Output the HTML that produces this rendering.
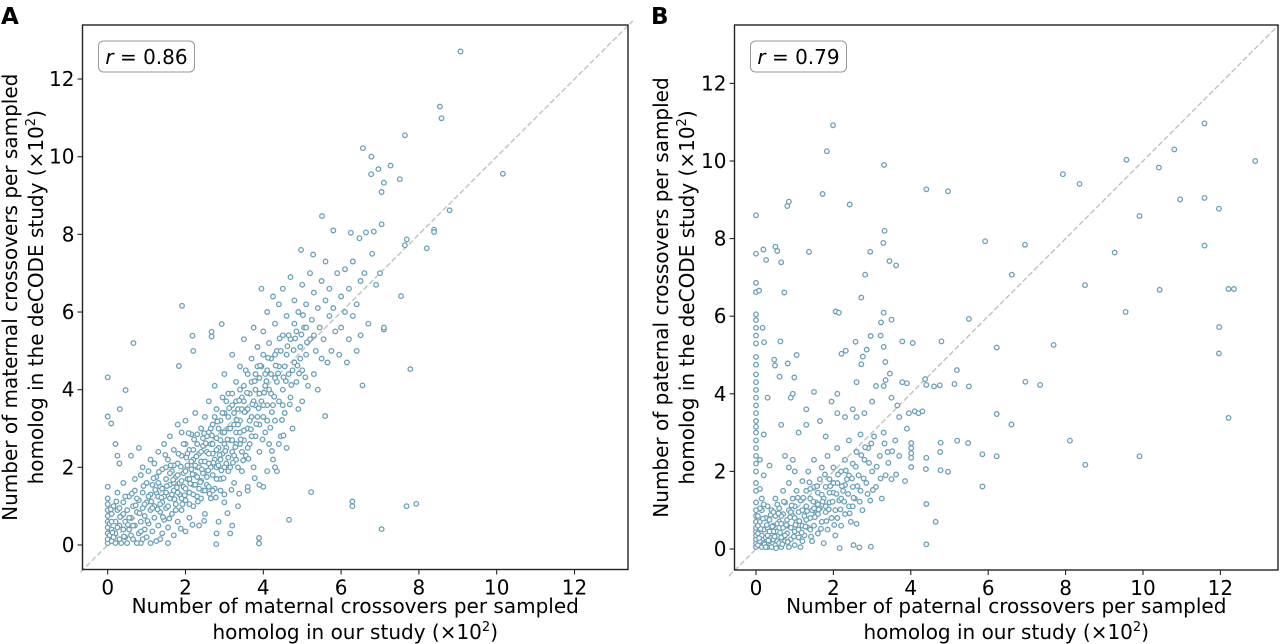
<!DOCTYPE html>
<html><head><meta charset="utf-8"><style>
html,body{margin:0;padding:0;background:#fff;}
svg{display:block;font-family:"DejaVu Sans","Liberation Sans",sans-serif;}
</style></head><body>
<svg id="fig" width="1280" height="644" viewBox="0 0 1280 644">
<text x="1" y="24" font-size="23" font-weight="bold">A</text>
<text x="651" y="24" font-size="23" font-weight="bold">B</text>
<g id="panelA"></g>
<g id="panelB"></g>
</svg>
<script>
const ticks = [0, 2, 4, 6, 8, 10, 12];
const tickLabels = ["0", "2", "4", "6", "8", "10", "12"];
const rA = "0.86";
const rB = "0.79";
const maternalPoints = [
[9.07,12.71],[8.54,11.29],[8.58,10.99],[7.64,10.55],[6.56,10.22],[6.78,10.0],[6.96,9.68],[6.77,9.55],[7.27,9.77],[7.51,9.42],[7.1,9.33],[7.04,9.09],[10.16,9.56],[8.79,8.62],[5.51,8.47],[7.04,8.26],[8.39,8.12],[8.39,8.06],[7.69,7.87],[7.64,7.72],[8.2,7.64],[6.84,8.07],[6.64,8.05],[6.47,7.9],[6.25,8.04],[4.97,7.6],[5.28,7.48],[7.54,6.41],[7.1,5.55],[7.78,4.53],[6.55,4.11],[5.59,3.32],[5.23,1.36],[6.29,1.12],[6.29,1.0],[7.68,1.0],[7.93,1.06],[7.04,0.41],[4.66,0.65],[3.89,0.18],[3.89,0.04],[2.79,0.02],[1.91,6.16],[0.66,5.2],[0,4.32],[0.46,3.99],[0.31,3.5],[0,3.31],[0.09,3.13],[2.18,5.39],[2.2,5.0],[2.93,5.69],[2.67,5.49],[2.67,5.37],[1.83,4.61],
[0,0.05],[0,0.15],[0,0.3],[0,0.45],[0,0.6],[0,0.75],[0,0.9],[0,1.05],[0,1.2],[0,1.5],[0.05,0.25],[0.05,0.55],[0.1,0.1],[0.1,0.4],[0.1,0.8],[0.15,1.0],[0.2,0.05],[0.2,0.3],[0.2,0.6],[0.25,0.9],[0.25,1.35],[0.3,0.15],[0.3,0.5],[0.3,2.1],[0.2,2.6],[0.25,2.3],[0.35,0.05],[0.35,0.75],[0.4,0.4],[0.4,1.1],[0.4,1.6],[0.45,0.2],[0.45,0.6],[0.5,0.9],[0.5,0.05],[0.55,1.25],[0.55,0.4],[0.6,0.7],[0.6,2.3],[0.65,0.15],[0.65,1.0],[0.7,0.5],[0.7,1.4],[0.7,1.7],[0.75,0.85],[0.8,0.3],[0.8,1.15],[0.8,2.5],[0.85,0.05],[0.85,0.6],[0.85,1.8],[0.9,0.95],[0.9,1.35],[0.9,2.0],[0.95,0.4],[0.95,0.75],[1.0,1.1],[1.0,1.6],[1.0,0.2],[1.05,0.55],[1.05,1.9],[1.1,0.9],[1.1,1.3],[1.1,2.2],[1.15,0.35],[1.15,1.55],[1.2,0.7],[1.2,1.0],[1.2,2.1],[1.25,1.75],[1.25,0.1],[1.3,1.25],[1.3,0.5],[1.3,2.4],[1.35,0.85],[1.35,1.5],[1.4,1.95],[1.4,1.1],[1.4,0.3],[1.45,0.65],[1.45,2.6],[1.5,1.35],[1.5,1.7],[1.5,0.95],[1.55,2.2],[1.55,0.45],[1.6,1.2],[1.6,1.55],[1.6,2.8],[1.65,0.8],[1.65,1.9],[1.7,1.4],[1.7,0.25],[1.7,2.45],[1.75,1.05],[1.75,1.75],[1.8,3.1],[1.8,2.1],[1.8,0.6],[1.85,1.3],[1.85,1.6],[1.9,2.3],[1.9,0.9],[1.9,2.9],[1.95,1.5],[1.95,1.85],[2.0,1.15],[2.0,2.6],[2.0,3.2],[2.0,0.35],[2.05,1.7],[2.05,2.05],[2.1,1.35],[2.1,2.45],[2.1,0.7],[2.15,1.95],[2.15,2.85],[2.2,1.55],[2.2,2.2],[2.2,1.0],[2.25,3.4],[2.25,1.8],[2.3,2.6],[2.3,1.25],[2.3,2.0],[2.35,0.5],[2.35,2.35],[2.4,1.65],[2.4,3.0],[2.4,2.15],[2.45,1.4],[2.45,2.75],[2.5,1.9],[2.5,3.3],[2.5,0.8],[2.55,2.4],[2.55,1.55],[2.6,2.9],[2.6,2.1],[2.6,3.7],[2.65,1.2],[2.65,2.6],[2.7,1.8],[2.7,3.1],[2.7,2.35],[2.75,4.1],[2.75,1.45],[2.8,2.75],[2.8,2.0],[2.8,3.5],[2.85,0.6],[2.85,2.5],[2.9,3.2],[2.9,1.7],[2.9,2.2],[2.95,3.8],[2.95,2.9],[3.0,1.3],[3.0,2.6],[3.0,3.4],[3.0,4.4],[3.05,2.1],[3.1,3.0],[3.1,1.9],[3.1,3.9],[3.15,2.7],[3.15,0.3],[3.2,2.4],[3.2,3.6],[3.2,4.9],[3.25,1.6],[3.25,3.1],[3.3,2.9],[3.3,4.2],[3.3,2.2],[3.35,3.5],[3.35,1.0],[3.4,2.6],[3.4,4.6],[3.4,3.2],[3.45,1.9],[3.45,3.8],[3.5,2.95],[3.5,4.1],[3.5,5.3],[3.55,2.3],[3.55,3.45],[3.6,4.4],[3.6,1.4],[3.6,3.0],[3.65,3.9],[3.65,2.6],[3.7,4.8],[3.7,3.3],[3.75,5.6],[3.75,2.0],[3.8,4.0],[3.8,3.6],[3.8,2.8],[3.85,4.6],[3.85,5.1],[3.9,3.1],[3.9,4.3],[3.9,2.4],[3.95,6.6],[3.95,3.7],[4.0,4.9],[4.0,3.3],[4.0,5.5],[4.0,1.5],[4.05,4.1],[4.05,2.9],[4.1,4.5],[4.1,6.0],[4.1,3.6],[4.15,2.6],[4.15,5.2],[4.2,4.8],[4.2,3.9],[4.25,6.4],[4.25,2.2],[4.3,4.3],[4.3,5.7],[4.3,3.2],[4.35,1.9],[4.35,5.0],[4.4,3.7],[4.4,4.6],[4.4,6.2],[4.45,2.8],[4.5,5.4],[4.5,4.0],[4.5,6.6],[4.55,3.4],[4.6,4.9],[4.6,5.9],[4.6,2.5],[4.65,4.4],[4.7,6.9],[4.7,3.8],[4.7,5.3],[4.75,3.0],[4.8,4.7],[4.8,6.3],[4.8,5.7],[4.85,4.2],[4.9,6.0],[4.9,3.5],[4.95,5.1],[5.0,4.5],[5.0,6.7],[5.0,3.7],[5.05,5.6],[5.1,4.9],[5.1,6.2],[5.15,4.1],[5.2,5.3],[5.2,7.0],[5.25,5.8],[5.3,4.4],[5.3,6.5],[5.35,5.0],[5.4,6.1],[5.4,4.0],[5.45,5.6],[5.5,6.8],[5.5,4.8],[5.55,5.3],[5.6,6.3],[5.6,7.3],[5.65,4.7],[5.7,5.9],[5.7,6.6],[5.75,5.0],[5.8,8.1],[5.8,6.1],[5.85,5.5],[5.9,7.0],[5.95,4.9],[6.0,6.4],[6.0,5.6],[6.1,7.1],[6.1,6.0],[6.15,4.7],[6.2,5.3],[6.2,6.6],[6.3,7.3],[6.3,5.9],[6.4,6.2],[6.4,5.0],[6.5,6.8],[6.5,5.4],[6.6,7.0],[6.7,5.7],[6.8,7.5],[6.9,6.7],[7.0,7.0],[7.1,5.6],
[2.8,0.3],[3.0,1.1],[3.2,0.5],[3.6,1.5],[3.9,1.55],[4.1,1.9],[4.3,2.0],[4.4,2.6],[1.1,0.05],[1.35,0.15],[1.55,0.05],[0.6,0.25],[0.75,0.05],[0.15,0.2],[0.3,0.95],[0.45,1.25],[0.9,0.15],
[1.3,1.6],[1.4,1.45],[1.5,2.0],[1.6,1.85],[1.7,1.6],[1.7,2.05],[1.8,1.35],[1.8,1.8],[1.9,1.2],[1.9,1.65],[1.95,2.6],[2.0,1.9],[2.0,1.45],[2.05,2.35],[2.1,1.05],[2.1,1.7],[2.15,2.15],[2.2,1.3],[2.2,2.45],[2.25,1.55],[2.25,2.05],[2.3,1.75],[2.3,2.85],[2.35,1.45],[2.35,2.0],[2.4,2.4],[2.4,1.2],[2.45,1.85],[2.45,2.55],[2.5,2.15],[2.5,1.4],[2.55,2.8],[2.55,1.75],[2.6,2.35],[2.6,1.5],[2.65,2.0],[2.65,3.0],[2.7,2.6],[2.7,1.4],[2.75,2.2],[2.75,3.3],[2.8,1.7],[2.8,2.45],[2.85,3.0],[2.85,2.05],[2.9,2.7],[2.9,1.4],[2.95,2.35],[2.95,3.4],[3.0,2.0],[3.0,2.9],[3.05,2.5],[3.05,3.7],[3.1,2.25],[3.1,3.3],[3.15,2.0],[3.15,3.0],[3.2,2.7],[3.2,3.9],[3.25,2.3],[3.25,3.4],[3.3,2.6],[3.3,3.7],[3.35,2.0],[3.35,3.1],[3.4,2.9],[3.4,4.0],[3.45,2.4],[3.45,3.5],[3.5,2.7],[3.5,3.7],[3.55,4.5],[3.6,2.5],[3.6,3.5],[3.65,3.2],[3.7,2.8],[3.7,4.2],[3.75,3.7],[3.8,4.4],[3.85,3.3],[3.9,3.9],[3.95,4.6],[4.0,3.6],[4.05,4.4],[4.1,3.2],[4.15,4.0],[4.2,4.4],[4.25,3.6],[4.3,4.9],[4.35,4.2],[4.45,5.0],[4.5,3.6],[4.55,4.6],[4.65,5.4],[4.75,4.5],[4.85,5.5],[4.95,4.8],[5.1,5.6],[5.3,5.4],[0.95,1.05],[1.05,1.25],[1.15,0.95],[1.25,1.35],[1.35,1.05],[1.45,1.25],[1.55,1.0],[1.65,1.3],[1.75,0.9],[0.55,0.7],[0.65,0.5],[0.75,1.2],[0.85,0.35],[0.4,0.8],[0.25,0.45],[0.1,0.6],
[1.22,1.42],[1.32,1.88],[1.42,0.72],[1.52,1.52],[1.62,2.05],[1.72,1.18],[1.82,2.35],[1.92,1.05],[2.02,2.25],[2.12,1.58],[2.22,2.72],[2.32,1.12],[2.42,1.95],[2.52,2.62],[2.62,1.32],[2.72,2.12],[2.82,3.18],[2.92,1.92],[3.02,2.42],[3.12,3.52],[3.22,2.12],[3.32,3.22],[3.42,2.72],[3.52,3.42],[3.62,2.22],[3.72,3.62],[3.82,3.12],[3.92,4.62],[4.02,3.92],[4.12,4.82],[4.22,3.42],[4.32,4.62],[4.42,5.32],[4.52,4.32],[4.62,5.12],[4.72,4.12],[4.82,5.32],[4.92,4.42],[5.02,5.92],[5.12,5.22],[1.18,1.72],[1.28,0.92],[1.38,1.22],[1.48,2.32],[1.58,0.68],[1.68,1.68],[1.78,1.48],[1.88,2.02],[1.98,1.28],[2.08,2.88],[2.18,1.82],[2.28,2.28],[2.38,1.62],[2.48,2.88],[2.58,1.92],[2.68,2.82],[2.78,1.22],[2.88,2.32],[2.98,1.72],[3.08,2.72],[3.18,1.42],[3.28,2.52],[3.38,3.72],[3.48,2.18],[3.58,3.92],[3.68,2.98],[3.78,4.22],[3.88,3.52],[3.98,2.72],[4.08,4.22],[4.18,3.02],[4.28,3.82],[4.38,4.42],[4.48,3.22],[4.58,4.22],[4.68,3.62],[4.78,5.02],[4.88,4.62],[4.98,5.42],[5.08,4.32],[1.02,0.62],[1.12,1.12],[0.92,1.52],[0.82,0.82],[0.72,1.02],[0.62,1.32],[0.52,0.52],[0.42,0.22],[0.32,0.72],[0.22,1.12],[0.12,0.32],[0.08,0.92],[1.88,0.42],[2.48,0.62],[2.18,0.52],[3.08,0.82],[3.38,1.32],[3.78,1.72],[4.22,2.42],[4.52,2.82]
];
const paternalPoints = [
[1.99,10.92],[1.83,10.25],[1.72,9.15],[0.85,8.95],[0.81,8.84],[0,8.6],[2.42,8.88],[3.31,9.9],[4.4,9.27],[4.96,9.22],[3.32,8.2],[3.29,7.89],[2.95,7.66],[1.37,7.66],[0,7.61],[0.19,7.72],[0.5,7.79],[0.55,7.68],[0.26,7.45],[0.65,7.39],[3.45,7.42],[3.62,7.31],[2.82,7.07],[2.72,6.48],[0.73,6.61],[0,6.86],[0,6.62],[0.08,6.66],[2.06,6.12],[2.14,6.09],[3.3,6.09],[3.5,5.91],[3.23,5.84],[0.17,5.7],[0.21,5.33],[0.63,5.35],[2.96,5.49],[3.22,5.5],[2.57,5.34],[2.86,5.14],[3.3,5.21],[3.78,5.35],[4.05,5.31],[4.79,5.35],[0.47,4.88],[0.49,4.73],[0.82,4.78],[1.05,5.0],[2.21,5.03],[2.32,5.11],[2.76,4.96],[2.72,4.76],[3.34,4.82],[3.46,4.52],[0.61,4.44],[0.99,4.42],[5.19,4.61],[5.5,4.19],[5.13,4.25],[4.75,4.22],[4.6,4.19],[4.4,4.23],[4.37,4.38],[3.78,4.3],[3.9,4.27],[5.92,7.93],[6.95,7.84],[6.61,7.07],[7.93,9.66],[8.36,9.41],[9.57,10.03],[10.41,9.83],[10.81,10.3],[11.59,10.97],[12.9,10.0],[10.96,9.01],[11.59,9.05],[11.96,8.77],[9.91,8.58],[9.27,7.64],[11.59,7.82],[8.5,6.8],[10.43,6.68],[12.21,6.7],[12.35,6.7],[9.55,6.11],[11.97,5.72],[11.96,5.04],[5.5,5.93],[6.22,5.19],[7.69,5.26],[6.96,4.31],[7.34,4.23],[12.21,3.38],[6.22,3.48],[6.6,3.21],[8.11,2.79],[5.2,2.79],[5.48,2.73],[5.85,2.44],[6.22,2.39],[9.91,2.39],[8.51,2.17],[5.85,1.61],[4.96,1.99],[4.77,2.03],[4.76,2.5],[4.77,2.74],[4.4,2.35],[4.39,2.06],[4.01,2.73],[4.01,2.6],[4.01,2.47],[4.01,2.35],[4.01,2.11],[4.4,1.16],[4.64,0.7],[4.4,0.12],[2.97,0.06],[2.67,0.04],[2.16,0.02],[2.52,0.1],
[0,0.05],[0,0.15],[0,0.25],[0,0.35],[0,0.45],[0,0.55],[0,0.7],[0,0.85],[0,1.0],[0,1.2],[0,1.5],[0,1.7],[0,2.0],[0,2.2],[0,2.4],[0,2.6],[0,2.8],[0,3.0],[0,3.15],[0,3.3],[0,3.5],[0,3.7],[0,3.9],[0,4.1],[0,4.3],[0,4.5],[0,4.75],[0,4.95],[0,5.3],[0,5.5],[0,5.7],[0,5.9],[0,6.05],[0.1,1.55],[0.1,2.3],[0.2,2.95],[0.3,3.9],[0.2,1.9],[0.35,2.15],[0.65,3.2],[0.9,3.9],[0.95,4.0],[0.75,2.4],[0.85,2.1],[0.95,2.3],[1.1,3.0],[1.3,3.6],[1.3,3.2],[1.5,4.05],[1.65,3.3],[1.8,2.9],[1.95,3.8],[2.1,4.0],[2.1,3.5],[2.3,3.4],[2.5,3.6],[2.6,4.3],[2.6,3.4],[2.8,3.5],[3.0,3.8],[3.1,4.2],[3.3,4.2],[3.35,4.35],[3.5,3.9],[3.65,3.7],[3.7,3.4],[3.95,3.5],[4.1,3.55],[4.2,3.5],[4.3,3.55],
[0.05,0.1],[0.05,0.4],[0.1,0.2],[0.1,0.7],[0.15,0.05],[0.15,0.35],[0.15,1.0],[0.2,0.5],[0.2,0.15],[0.25,0.8],[0.25,0.3],[0.3,0.05],[0.3,0.55],[0.3,1.1],[0.35,0.2],[0.35,0.75],[0.4,0.4],[0.4,0.05],[0.4,1.0],[0.45,0.6],[0.45,0.25],[0.5,0.85],[0.5,0.1],[0.5,1.3],[0.55,0.45],[0.55,0.2],[0.6,0.7],[0.6,1.05],[0.65,0.3],[0.65,0.05],[0.7,0.55],[0.7,0.9],[0.7,1.5],[0.75,0.2],[0.75,1.2],[0.8,0.4],[0.8,0.75],[0.85,0.05],[0.85,1.0],[0.85,1.7],[0.9,0.55],[0.9,0.25],[0.95,0.85],[0.95,1.3],[1.0,0.1],[1.0,0.45],[1.0,1.1],[1.0,2.0],[1.05,0.7],[1.05,1.5],[1.1,0.3],[1.1,0.95],[1.15,1.25],[1.15,0.05],[1.2,0.6],[1.2,1.75],[1.25,0.85],[1.25,0.35],[1.3,1.1],[1.3,1.5],[1.35,0.55],[1.35,2.0],[1.4,0.8],[1.4,1.3],[1.45,0.2],[1.45,1.0],[1.5,1.6],[1.5,0.6],[1.5,2.3],[1.55,1.2],[1.55,0.9],[1.6,1.45],[1.6,0.4],[1.65,1.8],[1.65,1.05],[1.7,0.7],[1.7,2.1],[1.75,1.3],[1.75,0.15],[1.8,1.6],[1.8,0.95],[1.85,2.4],[1.85,0.5],[1.9,1.2],[1.9,1.8],[1.95,0.8],[2.0,1.45],[2.0,2.1],[2.05,1.0],[2.05,0.35],[2.1,1.7],[2.1,2.6],[2.15,1.25],[2.2,0.6],[2.2,2.0],[2.25,1.5],[2.3,0.9],[2.3,2.3],[2.35,1.8],[2.4,1.1],[2.4,2.8],[2.45,0.7],[2.5,1.6],[2.5,2.2],[2.55,1.3],[2.6,2.5],[2.6,0.65],[2.65,1.9],[2.7,1.5],[2.7,2.95],[2.75,1.0],[2.8,2.3],[2.85,1.7],[2.9,2.6],[2.95,1.25],[3.0,2.0],[3.05,2.9],[3.1,1.6],[3.2,2.4],[3.25,1.3],[3.3,3.0],[3.35,1.9],[3.4,2.5],[3.5,1.8],[3.6,2.8],[3.7,2.4],[3.85,1.75],[3.9,3.1],
[0.6,0.15],[0.8,0.6],[1.0,0.8],[1.2,1.0],[1.2,0.2],[1.4,0.5],[1.4,1.55],[1.6,0.9],[1.6,1.15],[1.7,1.4],[1.8,1.1],[1.9,1.45],[2.0,1.7],[2.1,0.8],[2.2,1.3],[2.3,1.65],[2.4,1.9],[2.5,1.1],[0.3,0.35],[0.45,0.45],[0.55,0.65],[0.65,0.85],[0.75,0.35],[0.9,0.95],[1.1,0.5],[1.3,0.75],[1.5,1.05],
[0.08,0.28],[0.12,0.52],[0.18,0.78],[0.22,0.12],[0.28,0.62],[0.32,0.22],[0.38,0.88],[0.42,0.58],[0.48,0.32],[0.52,0.02],[0.58,0.92],[0.62,0.42],[0.68,0.12],[0.72,1.22],[0.78,0.62],[0.82,0.18],[0.88,0.82],[0.92,1.12],[0.98,0.32],[1.02,0.62],[1.08,1.32],[1.12,0.72],[1.18,0.42],[1.22,1.32],[1.28,0.58],[1.32,0.98],[1.38,1.72],[1.42,0.32],[1.48,1.22],[1.52,0.82],[1.58,1.62],[1.62,1.02],[1.68,0.52],[1.72,1.22],[1.78,1.92],[1.82,0.72],[1.88,1.02],[1.92,1.62],[1.98,1.22],[2.02,0.62],[2.08,1.42],[2.12,1.92],[2.18,1.02],[2.22,1.62],[2.28,1.22],[2.32,2.02],[2.38,1.42],[2.42,0.92],[2.48,1.82],[2.52,1.32],[2.58,2.12],[2.62,1.62],[2.68,1.22],[2.72,2.42],[2.78,1.82],[2.82,2.62],[2.88,1.42],[2.92,2.22],[2.98,2.72],[3.02,1.52],[3.12,2.12],[3.22,1.82],[3.32,2.72],[3.42,2.22],[3.52,2.52],[3.62,1.92],[0.05,0.6],[0.05,0.85],[0.1,1.05],[0.15,1.3],[0.2,1.15],[0.25,0.05],[0.35,0.45],[0.45,0.95],[0.55,1.15],[0.65,0.65]
];

const NS = "http://www.w3.org/2000/svg";
const C = "#6aa0b7";
function mk(parent, tag, attrs) {
  const e = document.createElementNS(NS, tag);
  for (const k in attrs) e.setAttribute(k, attrs[k]);
  parent.appendChild(e);
  return e;
}
function drawPanel(g, cfg, points, rText, key, yl1) {
  const xs = v => cfg.x0 + v * cfg.kx;
  const ys = v => cfg.y0 - v * cfg.ky;
  const dlo = -0.7, dhi = 13.5;
  const diag = mk(g, "line", {x1: xs(dlo), y1: ys(dlo), x2: xs(dhi), y2: ys(dhi), stroke: "#c4c4c4", "stroke-width": 1.5, "stroke-dasharray": "5.5,2.5"});
  
  
  points.forEach(p => {
    const c = mk(g, "circle", {cx: xs(p[0]).toFixed(1), cy: ys(p[1]).toFixed(1), r: 2.3, fill: "#fff", stroke: C, "stroke-width": 1.3});
    
    
  });
  const fr = mk(g, "rect", {x: cfg.L, y: cfg.T, width: cfg.R - cfg.L, height: cfg.B - cfg.T, fill: "none", stroke: "#222", "stroke-width": 1.4});
  
  
  ticks.forEach((t, i) => {
    const tx = mk(g, "line", {x1: xs(t), x2: xs(t), y1: cfg.B, y2: cfg.B + 5, stroke: "#222", "stroke-width": 1.1});
    
    
    const lx = mk(g, "text", {x: xs(t), y: cfg.B + 25, "font-size": 20, "text-anchor": "middle", fill: "#000"});
    lx.textContent = tickLabels[i];
    
    
    const ty = mk(g, "line", {x1: cfg.L - 5, x2: cfg.L, y1: ys(t), y2: ys(t), stroke: "#222", "stroke-width": 1.1});
    
    
    const ly = mk(g, "text", {x: cfg.L - 8, y: ys(t) + 7, "font-size": 20, "text-anchor": "end", fill: "#000"});
    ly.textContent = tickLabels[i];
    
    
  });
  const box = mk(g, "rect", {x: cfg.L + 16, y: 41, width: 96, height: 31, rx: 5, fill: "#fff", stroke: "#999", "stroke-width": 1});
  
  
  const rt = mk(g, "text", {x: cfg.L + 64, y: 64, "font-size": 20, "text-anchor": "middle", fill: "#000"});
  rt.innerHTML = '<tspan font-style="italic">r</tspan> = ' + rText;
  
  
  const mid = (cfg.L + cfg.R) / 2;
  const xa1 = mk(g, "text", {x: mid, y: 613, "font-size": 20, "text-anchor": "middle", fill: "#000"});
  xa1.textContent = "Number of " + key + " crossovers per sampled";
  
  
  const xa2 = mk(g, "text", {x: mid, y: 639, "font-size": 20, "text-anchor": "middle", fill: "#000"});
  xa2.innerHTML = 'homolog in our study (×10<tspan dy="-8" font-size="13">2</tspan><tspan dy="8">)</tspan>';
  
  
  const ymid = (cfg.T + cfg.B) / 2;
  const ya1 = mk(g, "text", {x: yl1, y: ymid, "font-size": 20, "text-anchor": "middle", fill: "#000", transform: "rotate(-90 " + yl1 + " " + ymid + ")"});
  ya1.textContent = "Number of " + key + " crossovers per sampled";
  
  
  const yl2 = yl1 + 26;
  const ya2 = mk(g, "text", {x: yl2, y: ymid, "font-size": 20, "text-anchor": "middle", fill: "#000", transform: "rotate(-90 " + yl2 + " " + ymid + ")"});
  ya2.innerHTML = 'homolog in the deCODE study (×10<tspan dy="-8" font-size="13">2</tspan><tspan dy="8">)</tspan>';
  
  
}
drawPanel(document.getElementById("panelA"),
  {L: 82.5, R: 628, T: 25, B: 569.5, x0: 107.7, kx: 38.9, y0: 545, ky: 38.83},
  maternalPoints, rA, "maternal", 17);
drawPanel(document.getElementById("panelB"),
  {L: 734.5, R: 1278, T: 25, B: 570, x0: 756, kx: 38.7, y0: 549, ky: 38.8},
  paternalPoints, rB, "paternal", 668);
</script>
</body></html>
